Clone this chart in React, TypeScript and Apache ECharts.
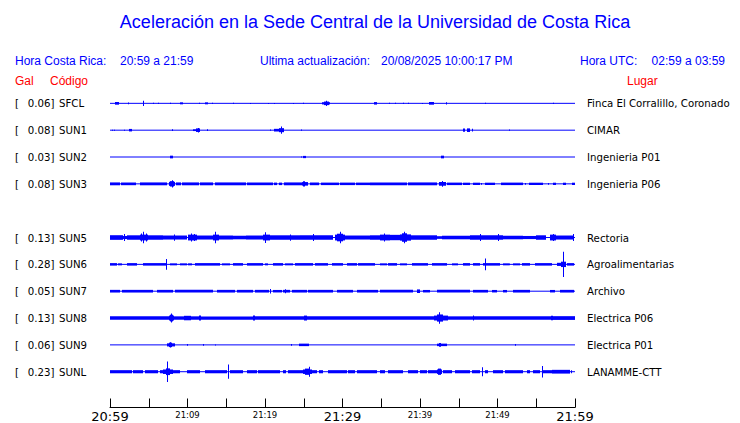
import { useEffect, useRef } from 'react';
import * as echarts from 'echarts';

// ---- Header texts ----
const titleText = 'Aceleración en la Sede Central de la Universidad de Costa Rica';
const localLabel = 'Hora Costa Rica:';
const localRange = '20:59 a 21:59';
const updateLabel = 'Ultima actualización:';
const updateValue = '20/08/2025 10:00:17 PM';
const utcLabel = 'Hora UTC:';
const utcRange = '02:59 a 03:59';

// ---- Stations ----
const stationCodes = ['SFCL', 'SUN1', 'SUN2', 'SUN3', 'SUN5', 'SUN6', 'SUN7', 'SUN8', 'SUN9', 'SUNL'];
const stationPeaks = ['0.06', '0.08', '0.03', '0.08', '0.13', '0.28', '0.05', '0.13', '0.06', '0.23'];
const stationPlaces = [
  'Finca El Corralillo, Coronado', 'CIMAR', 'Ingenieria P01', 'Ingenieria P06', 'Rectoria',
  'Agroalimentarias', 'Archivo', 'Electrica P06', 'Electrica P01', 'LANAMME-CTT',
];
const stationSlots = [0, 1, 2, 3, 5, 6, 7, 8, 9, 10];

// ---- Time axis (minutes after 20:59) ----
const labelMinutes = [0, 10, 20, 30, 40, 50, 60];
const labelTexts = ['20:59', '21:09', '21:19', '21:29', '21:39', '21:49', '21:59'];
const bigLabelMinutes = [0, 30, 60];

// ---- Envelopes: [startMinute, endMinute, amplitude (Gal)] ----
const sfcl = [
  [0.65, 1.2, 0.03], [2.35, 2.45, 0.02], [4.25, 4.35, 0.06], [5.55, 5.65, 0.015], [6.25, 6.35, 0.015],
  [7.8, 7.9, 0.015], [9.0, 9.4, 0.022], [11.5, 11.6, 0.015], [12.3, 12.6, 0.022], [13.2, 13.3, 0.015],
  [15.9, 16.0, 0.015], [18.1, 18.2, 0.01], [20.4, 20.5, 0.01], [21.2, 21.3, 0.01], [23.6, 23.7, 0.01],
  [24.9, 25.0, 0.015], [27.4, 28.4, 0.025], [27.6, 28.2, 0.04], [27.85, 27.95, 0.06], [34.0, 34.4, 0.028],
  [36.0, 36.1, 0.015], [36.8, 36.9, 0.015], [37.85, 37.95, 0.015], [38.4, 38.5, 0.015], [40.2, 40.3, 0.01],
  [41.2, 41.8, 0.03], [43.4, 43.5, 0.025], [48.4, 48.5, 0.015], [57.1, 57.2, 0.015],
];
const sun1 = [
  [0.3, 0.4, 0.01], [0.55, 0.65, 0.01], [1.8, 1.9, 0.01], [2.5, 2.8, 0.028], [8.0, 8.1, 0.02],
  [10.75, 11.2, 0.02], [11.15, 11.6, 0.04], [11.3, 11.4, 0.05], [12.5, 12.6, 0.02], [20.6, 20.7, 0.015],
  [21.2, 21.85, 0.03], [21.85, 22.4, 0.045], [22.1, 22.2, 0.08], [24.6, 24.7, 0.015], [45.5, 45.8, 0.035],
  [46.0, 46.45, 0.04], [46.65, 46.75, 0.03], [51.5, 51.6, 0.015],
];
const sun2 = [[7.75, 8.1, 0.03], [24.6, 24.7, 0.01], [24.95, 25.3, 0.025], [42.7, 43.1, 0.03]];
const sun3 = [
  [0.0, 1.3, 0.032], [1.45, 3.4, 0.03], [3.9, 7.4, 0.032], [7.6, 8.4, 0.045], [7.8, 8.2, 0.06], [7.95, 8.05, 0.08],
  [8.5, 9.2, 0.032], [9.35, 11.5, 0.032], [11.65, 13.3, 0.032], [13.5, 17.5, 0.032], [17.7, 21.0, 0.03],
  [21.2, 21.5, 0.028], [21.8, 22.2, 0.028], [22.4, 24.8, 0.032], [24.8, 25.6, 0.04], [24.95, 25.1, 0.06],
  [25.8, 27.0, 0.03], [27.2, 29.5, 0.028], [29.7, 31.6, 0.028], [31.8, 33.6, 0.028], [33.6, 38.3, 0.032],
  [38.5, 42.15, 0.032], [42.4, 43.4, 0.042], [42.8, 42.95, 0.065], [43.5, 45.4, 0.028], [45.6, 46.45, 0.026],
  [46.9, 47.7, 0.026], [47.9, 48.0, 0.02], [48.4, 49.7, 0.026], [50.5, 53.3, 0.028], [53.6, 53.7, 0.02],
  [54.0, 55.9, 0.026], [56.5, 56.6, 0.02], [57.2, 57.6, 0.026], [58.5, 58.9, 0.026], [59.6, 59.95, 0.026],
];
const sun5 = [
  [0, 1.7, 0.052], [1.85, 1.95, 0.08], [1.7, 2.15, 0.035], [2.15, 3.9, 0.05], [3.9, 4.9, 0.065], [4.25, 4.35, 0.13],
  [4.0, 4.1, 0.09], [4.6, 4.7, 0.09], [4.9, 6.9, 0.05], [6.9, 9.9, 0.045], [8.3, 8.4, 0.07], [10.1, 11.2, 0.065],
  [10.4, 10.5, 0.09], [10.8, 10.9, 0.08], [11.2, 13.3, 0.045], [13.3, 14.0, 0.065], [13.5, 13.6, 0.13], [14.0, 15.9, 0.045],
  [15.9, 17.6, 0.04], [17.6, 19.8, 0.045], [19.8, 20.6, 0.065], [20.05, 20.15, 0.12], [20.6, 24.5, 0.05], [23.2, 23.3, 0.07],
  [24.5, 28.8, 0.052], [26.2, 26.3, 0.08], [29.0, 30.3, 0.065], [29.3, 30.0, 0.085], [29.65, 29.75, 0.13], [30.3, 33.55, 0.045],
  [33.55, 34.8, 0.05], [34.8, 36.1, 0.065], [35.3, 35.4, 0.09], [36.1, 37.4, 0.06], [37.4, 38.9, 0.07], [37.7, 38.3, 0.095],
  [37.95, 38.05, 0.13], [38.9, 42.15, 0.05], [42.15, 42.8, 0.03], [42.8, 46.45, 0.04], [46.45, 50.75, 0.05],
  [47.7, 47.8, 0.08], [50.0, 50.1, 0.08], [50.75, 53.3, 0.04], [53.3, 55.0, 0.035], [55.0, 56.3, 0.05], [56.8, 57.6, 0.065],
  [57.15, 57.25, 0.08], [57.6, 59.9, 0.045], [59.75, 59.9, 0.08],
];
const sun6 = [
  [0, 0.86, 0.028], [1.08, 1.51, 0.022], [2.15, 3.44, 0.028], [4.3, 7.31, 0.028], [7.25, 7.35, 0.12],
  [7.74, 8.6, 0.022], [9.03, 9.89, 0.022], [10.11, 10.54, 0.022], [10.97, 14.19, 0.028], [14.41, 15.48, 0.022],
  [15.91, 17.2, 0.028], [17.63, 19.78, 0.028], [20.0, 20.43, 0.022], [21.08, 22.37, 0.028], [22.58, 23.66, 0.022],
  [23.87, 26.24, 0.028], [26.45, 28.17, 0.028], [28.6, 30.11, 0.028], [30.54, 31.83, 0.028], [32.04, 33.55, 0.028],
  [33.55, 34.2, 0.028], [34.84, 35.7, 0.022], [35.92, 36.99, 0.028], [37.42, 38.28, 0.022], [38.93, 41.08, 0.028],
  [41.51, 43.44, 0.028], [44.09, 44.95, 0.022], [45.59, 46.45, 0.028], [46.88, 47.74, 0.028], [48.17, 50.32, 0.028],
  [48.45, 48.55, 0.13], [50.75, 51.61, 0.022], [52.04, 52.9, 0.022], [53.12, 54.2, 0.028], [54.84, 56.99, 0.028],
  [57.63, 58.9, 0.035], [58.2, 58.8, 0.06], [58.45, 58.55, 0.28], [58.92, 59.92, 0.028],
];
const sun7 = [
  [0, 1.29, 0.03], [1.51, 5.59, 0.03], [6.02, 8.17, 0.03], [8.39, 13.33, 0.03], [13.76, 16.13, 0.03],
  [16.34, 18.49, 0.03], [18.71, 20.56, 0.03], [20.6, 20.8, 0.05], [21.08, 22.15, 0.028], [22.37, 23.23, 0.03],
  [22.55, 22.65, 0.045], [23.44, 25.38, 0.03], [25.59, 28.82, 0.03], [29.25, 31.4, 0.03], [31.83, 33.55, 0.03],
  [33.55, 34.63, 0.03], [34.84, 39.14, 0.03], [39.57, 40.0, 0.04], [40.43, 41.29, 0.028], [42.15, 46.45, 0.03],
  [46.88, 48.82, 0.03], [49.25, 49.9, 0.028], [50.75, 51.18, 0.028], [52.04, 54.2, 0.03], [56.78, 57.42, 0.028],
  [58.07, 59.92, 0.03],
];
const sun8 = [
  [0, 7.6, 0.038], [7.6, 8.3, 0.055], [7.8, 8.1, 0.075], [7.9, 8.0, 0.1], [8.3, 9.6, 0.038], [9.6, 10.4, 0.05],
  [10.4, 11.5, 0.038], [11.5, 11.7, 0.055], [11.7, 18.4, 0.036], [18.4, 18.7, 0.055], [18.7, 25.0, 0.038],
  [25.0, 25.4, 0.055], [25.4, 41.8, 0.038], [41.8, 43.6, 0.055], [42.2, 43.0, 0.08], [42.5, 42.6, 0.13],
  [43.6, 46.8, 0.038], [46.8, 47.0, 0.055], [47.0, 56.9, 0.04], [56.9, 57.1, 0.05], [57.1, 60, 0.042],
];
const sun9 = [
  [7.3, 8.4, 0.035], [7.6, 8.0, 0.05], [7.75, 7.85, 0.06], [9.9, 10.0, 0.02], [12.0, 12.1, 0.02], [13.5, 13.6, 0.01],
  [23.3, 23.4, 0.02], [24.4, 25.7, 0.028], [42.15, 43.5, 0.028], [42.5, 42.7, 0.04], [52.3, 52.4, 0.02],
];
const sunl = [
  [0, 2.8, 0.035], [3.01, 4.3, 0.035], [4.52, 6.24, 0.035], [6.45, 7.31, 0.035], [6.9, 8.1, 0.05], [7.2, 7.8, 0.075],
  [7.4, 7.5, 0.23], [7.96, 9.03, 0.035], [9.89, 11.61, 0.035], [12.26, 15.05, 0.035], [15.25, 15.35, 0.16],
  [15.48, 17.2, 0.035], [17.63, 18.92, 0.035], [19.14, 21.94, 0.035], [22.28, 22.71, 0.035], [23.01, 24.95, 0.035],
  [24.95, 26.0, 0.05], [25.2, 25.8, 0.07], [25.65, 25.75, 0.11], [26.02, 26.67, 0.035], [27.01, 27.53, 0.035],
  [28.17, 30.54, 0.035], [30.75, 31.61, 0.035], [31.91, 33.55, 0.035], [33.55, 34.41, 0.035], [34.84, 35.49, 0.035],
  [35.92, 37.85, 0.035], [38.5, 39.79, 0.035], [40.0, 40.86, 0.035], [41.08, 42.15, 0.035], [42.15, 42.9, 0.05],
  [42.3, 42.7, 0.07], [43.01, 44.09, 0.035], [44.52, 46.45, 0.035], [46.67, 47.74, 0.035], [48.05, 48.15, 0.1],
  [48.39, 48.82, 0.035], [49.46, 50.75, 0.035], [50.97, 53.33, 0.035], [53.77, 54.2, 0.035], [54.62, 55.49, 0.035],
  [55.75, 55.85, 0.13], [55.92, 56.99, 0.035], [56.99, 59.35, 0.042], [59.5, 59.6, 0.035],
];
const stationEnvelopes = [sfcl, sun1, sun2, sun3, sun5, sun6, sun7, sun8, sun9, sunl];

const ROW_STEP = 0.6; // Gal between trace baselines
const BLUE = '#0000ff';

export default function App() {
  const ref = useRef<HTMLDivElement>(null);
  useEffect(() => {
    const el = ref.current!;
    const chart = echarts.init(el, null, { renderer: 'svg' });
    const series: any[] = [];
    stationCodes.forEach((code, i) => {
      const row = -stationSlots[i] * ROW_STEP;
      series.push({
        type: 'line',
        name: code + '-base',
        data: [[0, row], [60, row]],
        symbol: 'none',
        lineStyle: { color: BLUE, width: 1 },
        silent: true,
        z: 1,
      });
      series.push({
        type: 'custom',
        name: code,
        data: stationEnvelopes[i].map((d) => [d[0], d[1], d[2], row]),
        encode: { x: [0, 1], y: 3 },
        z: 2,
        renderItem: (_p: any, api: any) => {
          const t0 = api.value(0), t1 = api.value(1), a = api.value(2), r = api.value(3);
          const p0 = api.coord([t0, r + a]);
          const p1 = api.coord([t1, r - a]);
          const x = Math.round(p0[0]);
          const w = Math.max(1, Math.round(p1[0]) - x);
          const h = Math.max(1, p1[1] - p0[1]);
          return {
            type: 'rect',
            shape: { x, y: p0[1], width: w, height: h },
            style: { fill: BLUE },
          };
        },
      });
    });

    chart.setOption({
      animation: false,
      backgroundColor: '#ffffff',
      grid: { left: 110, right: 165, top: 76.5, bottom: 14, containLabel: false },
      xAxis: {
        type: 'value',
        min: 0,
        max: 60,
        interval: 5,
        axisLine: { show: true, onZero: false, lineStyle: { color: '#000', width: 1 } },
        axisTick: { show: true, inside: true, length: 9, lineStyle: { color: '#000' } },
        splitLine: { show: false },
        axisLabel: {
          margin: 1,
          formatter: (v: number) => {
            const k = labelMinutes.indexOf(Math.round(v));
            if (k < 0) return '';
            return bigLabelMinutes.includes(labelMinutes[k])
              ? '{big|' + labelTexts[k] + '}'
              : '{small|' + labelTexts[k] + '}';
          },
          rich: {
            big: { fontSize: 13, fontFamily: 'DejaVu Sans', color: '#000', lineHeight: 14, padding: [2, 0, 0, 0] },
            small: { fontSize: 8.5, fontFamily: 'DejaVu Sans', color: '#000', lineHeight: 10, padding: [2, 0, 0, 0] },
          },
        },
      },
      yAxis: { type: 'value', show: false, min: -6.8, max: 0.6 },
      series,
    });

    const graphic: any[] = [];
    const txt = (text: string, x: number, y: number, opts: any = {}) => ({
      type: 'text',
      x,
      y,
      silent: true,
      style: {
        text,
        fill: opts.fill || '#000',
        fontSize: opts.fontSize || 12,
        fontFamily: opts.fontFamily || 'Liberation Sans',
        align: opts.align || 'left',
        verticalAlign: 'middle',
      },
    });
    graphic.push(txt(titleText, 375, 22, { fill: BLUE, fontSize: 18, align: 'center' }));
    graphic.push(txt(localLabel, 15, 61, { fill: BLUE }));
    graphic.push(txt(localRange, 120, 61, { fill: BLUE }));
    graphic.push(txt(updateLabel, 260, 61, { fill: BLUE }));
    graphic.push(txt(updateValue, 381, 61, { fill: BLUE }));
    graphic.push(txt(utcLabel, 580, 61, { fill: BLUE }));
    graphic.push(txt(utcRange, 725, 61, { fill: BLUE, align: 'right' }));
    graphic.push(txt('Gal', 15, 81, { fill: '#ff0000' }));
    graphic.push(txt('Código', 50, 81, { fill: '#ff0000' }));
    graphic.push(txt('Lugar', 627, 81, { fill: '#ff0000' }));

    stationCodes.forEach((code, i) => {
      const row = -stationSlots[i] * ROW_STEP;
      const py = chart.convertToPixel({ gridIndex: 0 }, [0, row]) as number[];
      const y = py[1] + 0.5;
      const f = { fontSize: 10.2, fontFamily: 'DejaVu Sans' };
      graphic.push(txt('[', 15, y, f));
      graphic.push(txt(stationPeaks[i] + ']', 54.5, y, { ...f, align: 'right' }));
      graphic.push(txt(code, 59, y, f));
      graphic.push(txt(stationPlaces[i], 587, y, f));
    });
    chart.setOption({ graphic });

    return () => chart.dispose();
  }, []);
  return (
    <div
      ref={ref}
      style={{ position: 'fixed', left: 0, top: 0, width: 740, height: 423, background: '#fff' }}
    />
  );
}
